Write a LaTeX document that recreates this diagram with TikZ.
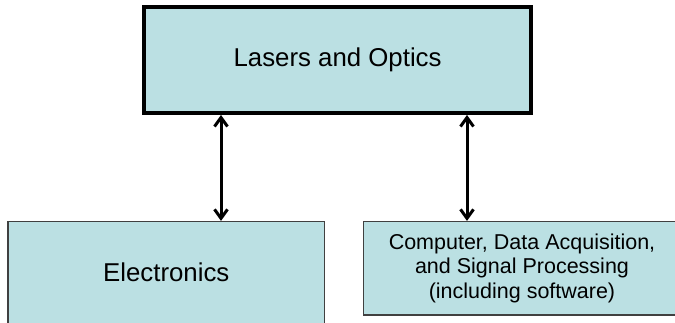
\documentclass[tikz,border=0pt]{standalone}
\usepackage{fontspec}
\setmainfont{Liberation Sans}
\usetikzlibrary{arrows.meta}
\definecolor{boxblue}{RGB}{187,224,227}
\begin{document}
\begin{tikzpicture}[x=1pt,y=-1pt,
  mainbox/.style={draw=black, fill=boxblue, line width=4.3pt, inner sep=0pt,
    minimum width=386.8pt, minimum height=105.6pt, font=\fontsize{25.8}{30}\selectfont},
  subbox/.style={draw=black!75, fill=boxblue, line width=1.2pt, inner sep=0pt,
    align=center, font=\fontsize{25.8}{30}\selectfont},
  link/.style={line width=3pt, {Straight Barb[length=9pt,width=13pt]}-{Straight Barb[length=9pt,width=13pt]}}]
\useasboundingbox (0,0) rectangle (675,322);
\node[mainbox] (optics) at (337.6,60) {Lasers and Optics};
\node[subbox, minimum width=316.5pt, minimum height=102.5pt] (elec) at (166.25,272.75) {Electronics};
\node[subbox, minimum width=317pt, minimum height=93.5pt,
  font=\fontsize{21.5}{24.7}\selectfont] (daq) at (522,268.25)
  {Computer, Data Acquisition,\\and Signal Processing\\(including software)};
\coordinate (left) at (221,0);
\coordinate (right) at (467,0);
\draw[link] (optics.south -| left) -- (elec.north -| left);
\draw[link] (optics.south -| right) -- (daq.north -| right);
\end{tikzpicture}
\end{document}
